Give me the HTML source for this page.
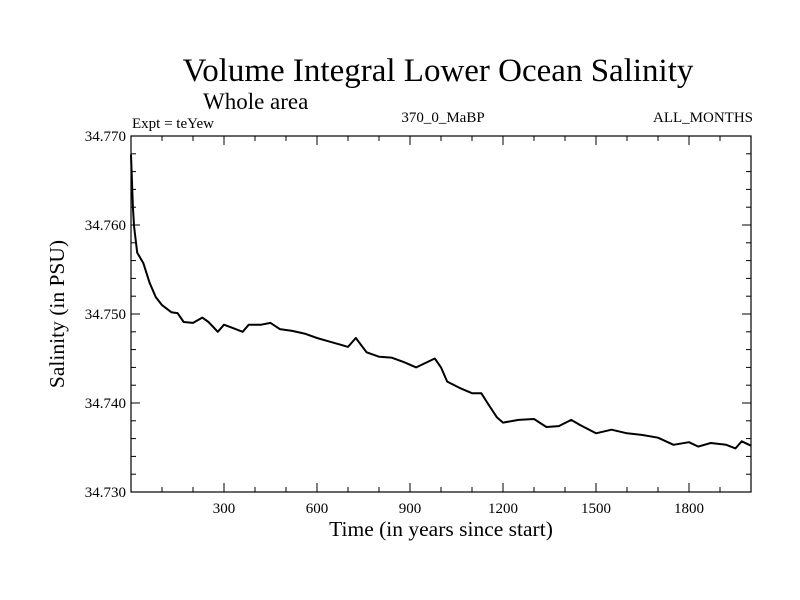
<!DOCTYPE html>
<html><head><meta charset="utf-8"><style>
body{margin:0;background:#fff}
svg{display:block;font-family:"Liberation Serif",serif}
</style></head><body>
<svg id="chart" width="800" height="600">
<text x="438" y="81" font-size="33" text-anchor="middle">Volume Integral Lower Ocean Salinity</text>
<text x="203" y="109" font-size="23">Whole area</text>
<text x="132" y="128" font-size="15">Expt = teYew</text>
<text x="443" y="122" font-size="15" text-anchor="middle">370_0_MaBP</text>
<text x="753" y="122" font-size="15" text-anchor="end">ALL_MONTHS</text>
<text transform="translate(64,314) rotate(-90)" font-size="21.5" text-anchor="middle">Salinity (in PSU)</text>
<text x="441" y="536" font-size="21.5" text-anchor="middle">Time (in years since start)</text>
<g id="axes"></g>
<path id="line" fill="none" stroke="#000" stroke-width="2" stroke-linejoin="round"/>
<rect x="131" y="136" width="620" height="356" fill="none" stroke="#000" stroke-width="1.2"/>
</svg>
<script>
const years=[0,6,10,20,40,60,80,100,130,150,170,200,230,250,280,300,330,360,380,420,450,480,520,560,600,640,680,700,725,760,800,840,880,920,980,1000,1020,1060,1100,1130,1150,1180,1200,1250,1300,1340,1380,1420,1450,1500,1550,1600,1650,1700,1750,1800,1830,1870,1920,1950,1970,2000];
const salinity=[34.7679,34.7620,34.7598,34.7569,34.7557,34.7535,34.7519,34.7510,34.7502,34.7501,34.7491,34.7490,34.7496,34.7491,34.7480,34.7488,34.7484,34.7480,34.7488,34.7488,34.7490,34.7483,34.7481,34.7478,34.7473,34.7469,34.7465,34.7463,34.7473,34.7457,34.7452,34.7451,34.7446,34.7440,34.7450,34.7440,34.7424,34.7417,34.7411,34.7411,34.7400,34.7384,34.7378,34.7381,34.7382,34.7373,34.7374,34.7381,34.7375,34.7366,34.7370,34.7366,34.7364,34.7361,34.7353,34.7356,34.7351,34.7355,34.7353,34.7349,34.7357,34.7352];
const xTicks=[300,600,900,1200,1500,1800];
const yTicks=[34.730,34.740,34.750,34.760,34.770];
const X0=131,X1=751,Y0=492,Y1=136;
const xs=t=>X0+(t-0)/2000*(X1-X0);
const ys=v=>Y0-(v-34.730)/0.040*(Y0-Y1);
const ns="http://www.w3.org/2000/svg",g=document.getElementById('axes');
function ln(x1,y1,x2,y2){const l=document.createElementNS(ns,'line');l.setAttribute('x1',x1);l.setAttribute('y1',y1);l.setAttribute('x2',x2);l.setAttribute('y2',y2);l.setAttribute('stroke','#000');


g.appendChild(l);}
function tx(x,y,s,a){const t=document.createElementNS(ns,'text');t.setAttribute('x',x);t.setAttribute('y',y);t.setAttribute('font-size','15');t.setAttribute('text-anchor',a);t.textContent=s;


g.appendChild(t);}
for(let t=100;t<2000;t+=100){const maj=t%300===0;const x=xs(t);ln(x,Y0,x,Y0-(maj?9:5));ln(x,Y1,x,Y1+(maj?9:5));}
xTicks.forEach(t=>tx(xs(t),513,String(t),'middle'));
for(let i=1;i<20;i++){const v=34.730+i*0.002;const maj=i%5===0;const y=ys(v);ln(X0,y,X0+(maj?9:5),y);ln(X1,y,X1-(maj?9:5),y);}
yTicks.forEach(v=>tx(126,ys(v)+5,v.toFixed(3),'end'));
document.getElementById('line').setAttribute('d',years.map((t,i)=>(i?'L':'M')+xs(t).toFixed(1)+','+ys(salinity[i]).toFixed(1)).join(''));
</script>
</body></html>
